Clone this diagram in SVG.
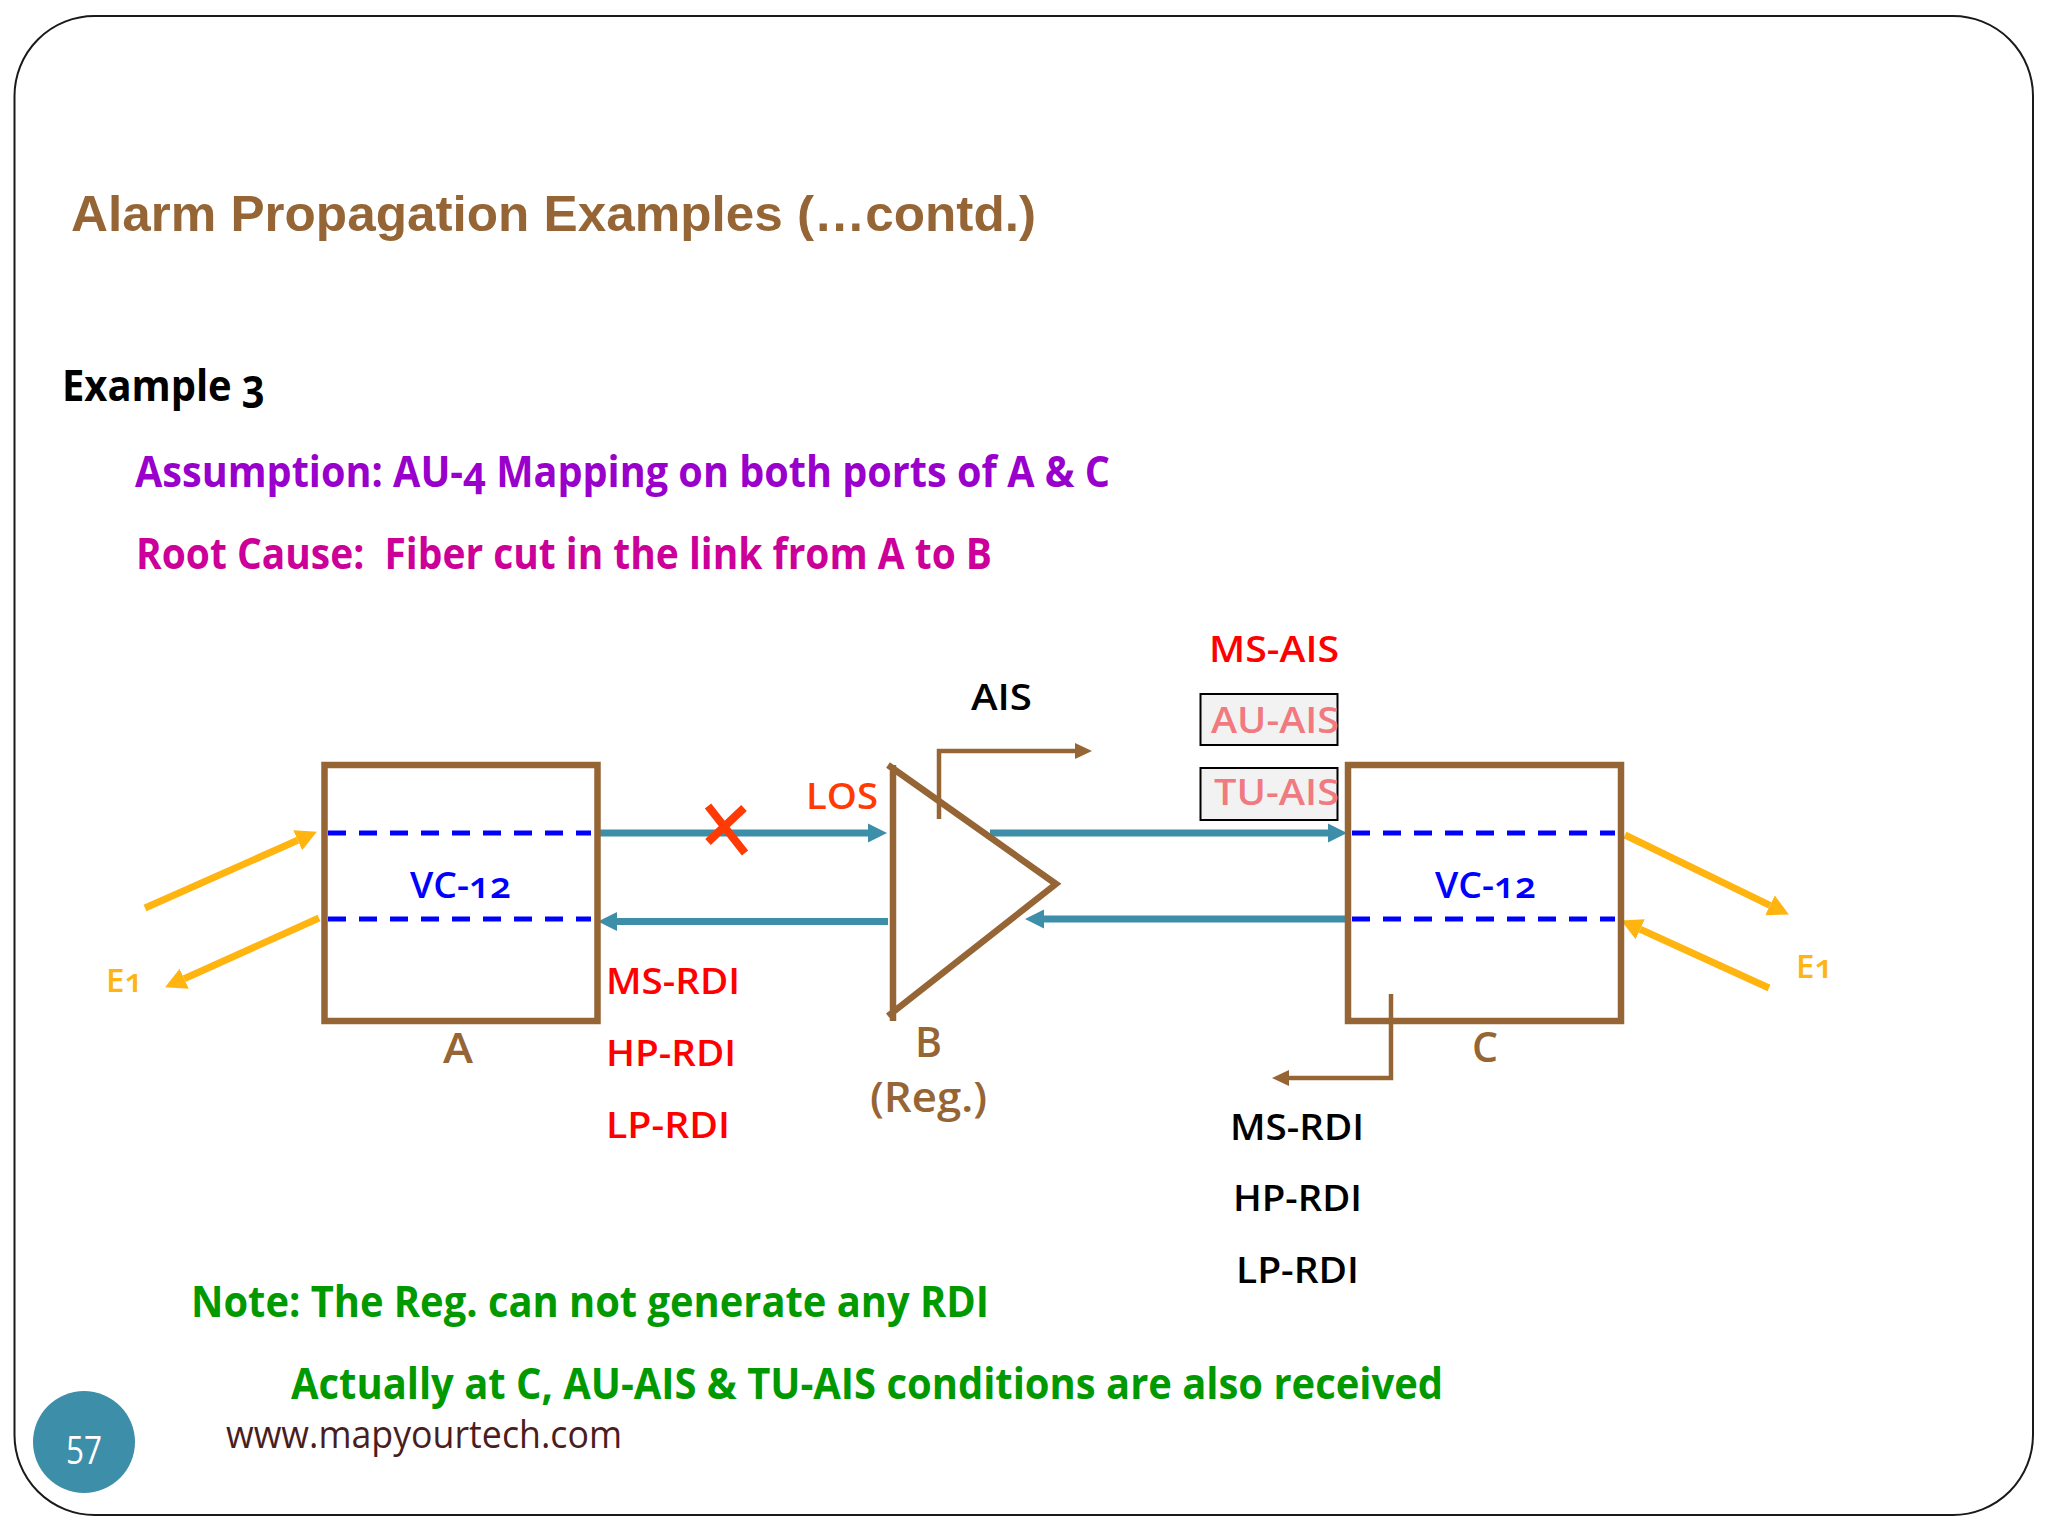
<svg xmlns="http://www.w3.org/2000/svg" width="2048" height="1536" viewBox="0 0 2048 1536">
<style>
text{font-family:"Open Sans","Noto Sans",sans-serif;font-weight:600;font-feature-settings:"onum";}
.title{font-family:"Liberation Sans",Arial,sans-serif;font-weight:700;font-size:50px;fill:#966536;font-feature-settings:normal;}
.h{font-size:43px;font-weight:700;}
.l{font-size:36px;}
.red{fill:#ff0000;}
.blk{fill:#000;}
.pink{fill:#f07a80;}
.blue{fill:#0000ff;}
.br{fill:#966536;font-size:42px;}
.e{fill:#ffb40f;font-size:32px;}
.box{fill:none;stroke:#966536;stroke-width:6.500;}
.dash{stroke:#0000ff;stroke-width:5;stroke-dasharray:18 13;fill:none;}
.teal{stroke:#3d8ea8;stroke-width:7;fill:none;}
.org{stroke:#ffb40f;stroke-width:7;fill:none;}
.thin{stroke:#966536;stroke-width:4.500;fill:none;}
.x{stroke:#ff3a05;stroke-width:8;fill:none;}
.tag{fill:#f2f2f2;stroke:#000;stroke-width:2;}
</style>
<defs>
<marker id="mt" markerUnits="userSpaceOnUse" markerWidth="20" markerHeight="20" refX="0" refY="10" orient="auto"><path d="M0,0.5L19,10L0,19.5Z" fill="#3d8ea8"/></marker>
<marker id="mo" markerUnits="userSpaceOnUse" markerWidth="22" markerHeight="24" refX="0" refY="12" orient="auto"><path d="M0,1L21,12L0,23Z" fill="#ffb40f"/></marker>
<marker id="mb" markerUnits="userSpaceOnUse" markerWidth="18" markerHeight="18" refX="0" refY="9" orient="auto"><path d="M0,1L17,9L0,17Z" fill="#966536"/></marker>
</defs>
<rect id="bg" width="2048" height="1536" fill="#fff"/>
<rect id="frame" x="14.500" y="16" width="2018.500" height="1499" rx="80" ry="80" fill="#fff" stroke="#1a1a1a" stroke-width="2"/>

<text class="title" x="71" y="231" textLength="965" lengthAdjust="spacingAndGlyphs">Alarm Propagation Examples (…contd.)</text>
<text class="h blk" x="62" y="401" textLength="203" lengthAdjust="spacingAndGlyphs">Example 3</text>
<text class="h" fill="#9900cc" x="135" y="487" textLength="975" lengthAdjust="spacingAndGlyphs">Assumption: AU-4 Mapping on both ports of A &amp; C</text>
<text class="h" fill="#cc0099" x="136" y="569" textLength="856" lengthAdjust="spacingAndGlyphs" xml:space="preserve">Root Cause:  Fiber cut in the link from A to B</text>

<g id="connectors">
<line class="teal" x1="600" y1="833" x2="868" y2="833" marker-end="url(#mt)"/>
<line class="teal" x1="888" y1="921.500" x2="617" y2="921.500" marker-end="url(#mt)"/>
<line class="teal" x1="990" y1="833" x2="1328" y2="833" marker-end="url(#mt)"/>
<line class="teal" x1="1346" y1="919" x2="1044" y2="919" marker-end="url(#mt)"/>
<line class="org" x1="145" y1="908" x2="297.700" y2="840.200" marker-end="url(#mo)"/>
<line class="org" x1="319" y1="918" x2="184.200" y2="978.700" marker-end="url(#mo)"/>
<line class="org" x1="1625" y1="835" x2="1770" y2="905.300" marker-end="url(#mo)"/>
<line class="org" x1="1769" y1="988" x2="1640.200" y2="929.300" marker-end="url(#mo)"/>
<path class="thin" d="M939,819V751H1075" marker-end="url(#mb)"/>
<path class="thin" d="M1391,994V1078H1289" marker-end="url(#mb)"/>
<path class="x" d="M708,806L745,853M744,808L708,842"/>
</g>

<g id="node-a">
<rect class="box" x="324.500" y="765" width="273" height="256"/>
<line class="dash" x1="328" y1="833" x2="591" y2="833"/>
<line class="dash" x1="328" y1="919" x2="591" y2="919"/>
<text class="l blue" x="410" y="898" textLength="101" lengthAdjust="spacingAndGlyphs">VC-12</text>
<text class="br" x="443" y="1063" textLength="30" lengthAdjust="spacingAndGlyphs">A</text>
</g>

<g id="node-b">
<path class="box" d="M893,765V1021M888,765L1056,884L888,1016"/>
<text class="br" x="915" y="1057" textLength="27" lengthAdjust="spacingAndGlyphs">B</text>
<text class="br" x="870" y="1112" textLength="117" lengthAdjust="spacingAndGlyphs">(Reg.)</text>
</g>

<g id="node-c">
<rect class="box" x="1348" y="765" width="273" height="256"/>
<line class="dash" x1="1352" y1="833" x2="1615" y2="833"/>
<line class="dash" x1="1352" y1="919" x2="1615" y2="919"/>
<text class="l blue" x="1435" y="898" textLength="101" lengthAdjust="spacingAndGlyphs">VC-12</text>
<text class="br" x="1472" y="1062" textLength="26" lengthAdjust="spacingAndGlyphs">C</text>
</g>

<g id="tags">
<rect class="tag" x="1200.500" y="694" width="137" height="51"/>
<rect class="tag" x="1200.500" y="768" width="137" height="52"/>
</g>

<g id="labels">
<text class="l red" x="1209" y="662" textLength="130" lengthAdjust="spacingAndGlyphs">MS-AIS</text>
<text class="l blk" x="971" y="710" textLength="61" lengthAdjust="spacingAndGlyphs">AIS</text>
<text class="l pink" x="1211" y="733" textLength="128" lengthAdjust="spacingAndGlyphs">AU-AIS</text>
<text class="l pink" x="1214" y="805" textLength="125" lengthAdjust="spacingAndGlyphs">TU-AIS</text>
<text class="l" fill="#ff3a05" x="806" y="809" textLength="72" lengthAdjust="spacingAndGlyphs">LOS</text>
<text class="e" x="106" y="992" textLength="37" lengthAdjust="spacingAndGlyphs">E1</text>
<text class="e" x="1796" y="978" textLength="37" lengthAdjust="spacingAndGlyphs">E1</text>
<text class="l red" x="606" y="994" textLength="134" lengthAdjust="spacingAndGlyphs">MS-RDI</text>
<text class="l red" x="606" y="1066" textLength="130" lengthAdjust="spacingAndGlyphs">HP-RDI</text>
<text class="l red" x="606" y="1138" textLength="124" lengthAdjust="spacingAndGlyphs">LP-RDI</text>
<text class="l blk" x="1230" y="1140" textLength="134" lengthAdjust="spacingAndGlyphs">MS-RDI</text>
<text class="l blk" x="1233" y="1211" textLength="129" lengthAdjust="spacingAndGlyphs">HP-RDI</text>
<text class="l blk" x="1236" y="1283" textLength="123" lengthAdjust="spacingAndGlyphs">LP-RDI</text>
<text class="h" fill="#009900" x="191" y="1317" textLength="798" lengthAdjust="spacingAndGlyphs">Note: The Reg. can not generate any RDI</text>
<text class="h" fill="#009900" x="291" y="1399" textLength="1152" lengthAdjust="spacingAndGlyphs">Actually at C, AU-AIS &amp; TU-AIS conditions are also received</text>
<text x="226" y="1448" font-size="39" fill="#4a1e1e" style="font-weight:400" textLength="396" lengthAdjust="spacingAndGlyphs">www.mapyourtech.com</text>
</g>

<g id="page-badge">
<circle cx="84" cy="1442" r="51" fill="#3d8ea8"/>
<text x="66" y="1464" font-size="39" fill="#fff" style="font-weight:400;font-feature-settings:normal" textLength="36" lengthAdjust="spacingAndGlyphs">57</text>
</g>
</svg>
